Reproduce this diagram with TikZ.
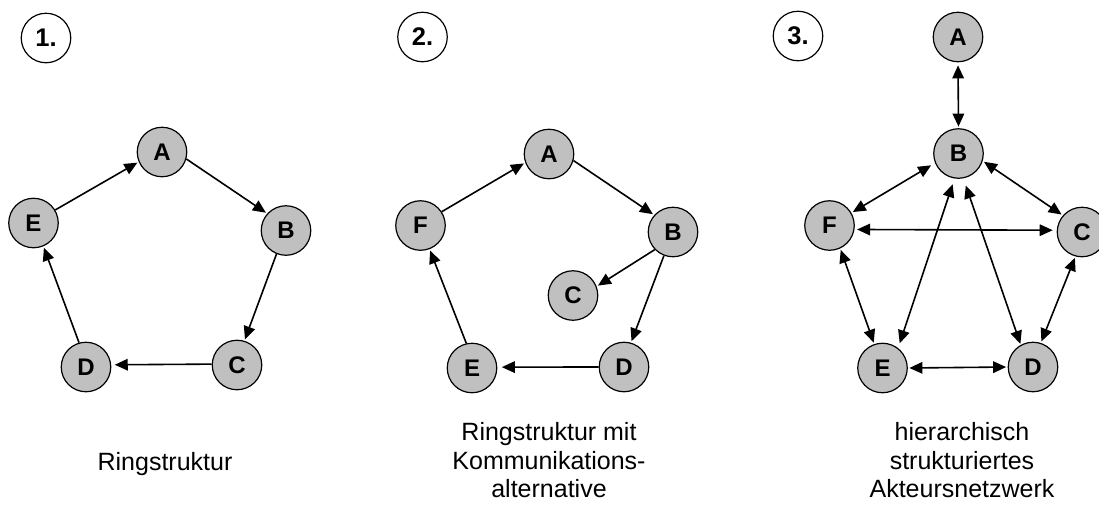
\documentclass[tikz,border=0pt]{standalone}
\usepackage{fontspec}
\setmainfont{Liberation Sans}
\usetikzlibrary{arrows.meta}
\definecolor{nodegray}{HTML}{C0C0C0}
\begin{document}
\begin{tikzpicture}[x=1pt,y=-1pt,
  actor/.style={circle, draw=black, line width=1.2pt, fill=nodegray,
    minimum size=49.5pt, inner sep=0pt, font=\fontsize{24}{24}\selectfont\bfseries},
  panelno/.style={circle, draw=black, line width=1.2pt, fill=white,
    minimum size=49.5pt, inner sep=0pt, font=\fontsize{25.5}{25.5}\selectfont\bfseries},
  link/.style={line width=1.6pt, -{Triangle[length=13pt,width=11.5pt]}, shorten >=1.5pt},
  duplex/.style={line width=1.6pt,
    {Triangle[length=13pt,width=11.5pt]}-{Triangle[length=13pt,width=11.5pt]},
    shorten >=1.5pt, shorten <=1.5pt},
  caption/.style={align=center, anchor=north, inner sep=0pt,
    font=\fontsize{25}{28.5}\selectfont}]
\useasboundingbox (0,0) rectangle (1099,504);

% ---- 1. Ringstruktur
\node[panelno] (n1) at (46,38) {1.};
\node[actor] (A1) at (162,152) {A};
\node[actor] (B1) at (286,230.5) {B};
\node[actor] (C1) at (237,365) {C};
\node[actor] (D1) at (86,367) {D};
\node[actor] (E1) at (33.5,223) {E};
\draw[link] (E1.31) -- (A1.203);
\draw[link] (A1.-16) -- (B1.138);
\draw[link] (B1.-112) -- (C1.73);
\draw[link, shorten >=3.5pt] (C1.178) -- (D1.5);
\draw[link] (D1.106) -- (E1.-67);
\node[caption] (cap1) at (165,452) {Ringstruktur};

% ---- 2. Ringstruktur mit Kommunikationsalternative
\node[panelno] (n2) at (422.5,37) {2.};
\node[actor] (A2) at (549,154) {A};
\node[actor] (B2) at (673,232) {B};
\node[actor] (C2) at (573,295.5) {C};
\node[actor] (D2) at (624,367) {D};
\node[actor] (E2) at (472,368) {E};
\node[actor] (F2) at (420.5,225.5) {F};
\draw[link] (F2.33) -- (A2.200);
\draw[link] (A2.-15) -- (B2.138);
\draw[link] (B2.224) -- (C2.21);
\draw[link] (B2.-111) -- (D2.74);
\draw[link, shorten >=4.5pt] (D2.180) -- (E2.2);
\draw[link] (E2.103) -- (F2.-69);
\node[caption] (cap2) at (549,422.5) {Ringstruktur mit\\Kommunikations-\\alternative};

% ---- 3. hierarchisch strukturiertes Akteursnetzwerk
\node[panelno] (n3) at (798,36) {3.};
\node[actor] (A3) at (958,37) {A};
\node[actor] (B3) at (958.5,153.5) {B};
\node[actor] (C3) at (1082,232) {C};
\node[actor] (D3) at (1033,367) {D};
\node[actor] (E3) at (882.5,368) {E};
\node[actor] (F3) at (829.5,225.5) {F};
\draw[duplex, shorten <=3pt] (A3.-90) -- (B3.90);
\draw[duplex, shorten <=4.5pt] (B3.202) -- (F3.30);
\draw[duplex] (B3.-17) -- (C3.139);
\draw[duplex, shorten <=2.5pt, shorten >=4pt] (F3.-9) -- (C3.176);
\draw[duplex, shorten <=6pt, shorten >=5pt] (B3.-99) -- (E3.52);
\draw[duplex, shorten <=7.5pt, shorten >=1pt] (B3.-79) -- (D3.119);
\draw[duplex] (F3.-65) -- (E3.109);
\draw[duplex] (C3.-105) -- (D3.72);
\draw[duplex] (E3.0) -- (D3.180);
\node[caption] (cap3) at (962,422.5) {hierarchisch\\strukturiertes\\Akteursnetzwerk};
\end{tikzpicture}
\end{document}
